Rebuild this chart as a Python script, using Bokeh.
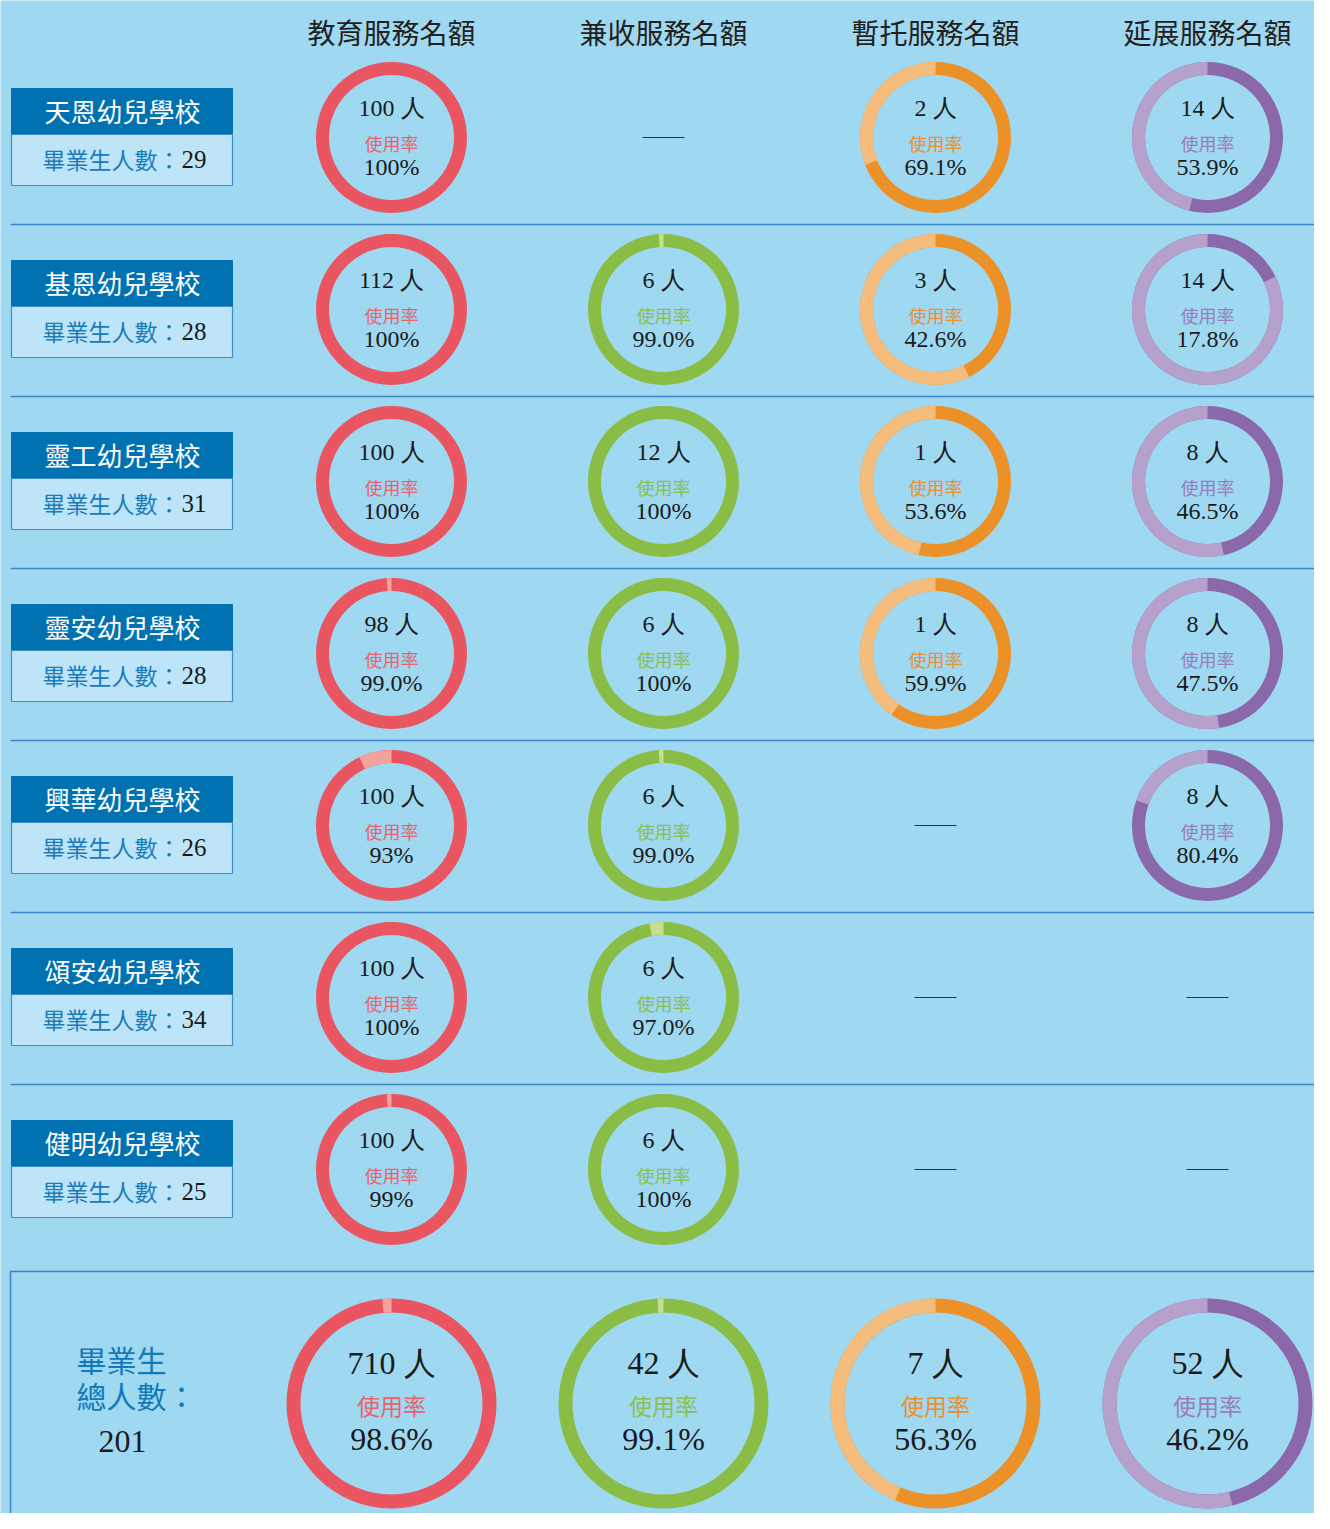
from bokeh.plotting import figure
from bokeh.models import Range1d
from bokeh.embed import file_html
from bokeh.resources import INLINE
from bokeh.core.properties import value
import math

# ---------------- data ----------------
services = ["教育服務名額", "兼收服務名額", "暫托服務名額", "延展服務名額"]
schools = ["天恩幼兒學校", "基恩幼兒學校", "靈工幼兒學校", "靈安幼兒學校",
           "興華幼兒學校", "頌安幼兒學校", "健明幼兒學校"]
graduates = [29, 28, 31, 28, 26, 34, 25]

edu_quota = [100, 112, 100, 98, 100, 100, 100]
edu_rate = ["100%", "100%", "100%", "99.0%", "93%", "100%", "99%"]
joint_quota = [None, 6, 12, 6, 6, 6, 6]
joint_rate = [None, "99.0%", "100%", "100%", "99.0%", "97.0%", "100%"]
occ_quota = [2, 3, 1, 1, None, None, None]
occ_rate = ["69.1%", "42.6%", "53.6%", "59.9%", None, None, None]
ext_quota = [14, 14, 8, 8, 8, None, None]
ext_rate = ["53.9%", "17.8%", "46.5%", "47.5%", "80.4%", None, None]

total_graduates = 201
total_quota = [710, 42, 7, 52]
total_rate = ["98.6%", "99.1%", "56.3%", "46.2%"]

quotas = [edu_quota, joint_quota, occ_quota, ext_quota]
rates = [edu_rate, joint_rate, occ_rate, ext_rate]

# ---------------- style ----------------
BG = "#9fd8f1"
dark_colors = ["#e95561", "#89bd45", "#ec9028", "#8a68a9"]
light_colors = ["#f4a29c", "#c4df92", "#f5bd7d", "#b5a1cc"]
label_colors = ["#e8636c", "#8cbf4e", "#ec9028", "#9a7dba"]
SERIF = "Liberation Serif"
CJK = "Noto Sans CJK TC"

col_x = [391, 663, 935, 1207]
row_y0, row_step = 137, 172
R_OUT, R_IN = 75.5, 62.5
BIG_Y, BR_OUT, BR_IN = 1403, 105, 91

p = figure(width=1314, height=1513, output_backend="svg", toolbar_location=None,
           x_range=Range1d(0, 1314), y_range=Range1d(-1513, 0),
           min_border=0, background_fill_color=BG, border_fill_color=BG,
           outline_line_color=None)
p.axis.visible = False
p.grid.visible = False

# header
p.text(x=col_x, y=[-31] * 4, text=services, text_font=value(CJK),
       text_font_size="28px", text_color="#231f20", text_align="center",
       text_baseline="middle")

# row separators
sep_y = [-(row_y0 + row_step * r + 87) for r in range(len(schools) - 1)]
p.segment(x0=[10] * len(sep_y), x1=[1330] * len(sep_y), y0=sep_y, y1=sep_y,
          line_color="#3d86c6", line_width=1.5)

# school label boxes
ry = [-(row_y0 + row_step * r) for r in range(len(schools))]
p.quad(left=[11] * 7, right=[232] * 7, top=[y + 49 for y in ry], bottom=[y + 3 for y in ry],
       fill_color="#0071b1", line_color="#0071b1", line_width=1)
p.quad(left=[11] * 7, right=[232] * 7, top=[y + 3 for y in ry], bottom=[y - 48 for y in ry],
       fill_color="#bde5f7", line_color="#3f8cc9", line_width=1.2)
p.text(x=[122] * 7, y=[y + 27 for y in ry], text=schools, text_font=value(CJK),
       text_font_size="26px", text_color="white", text_align="center", text_baseline="middle")
p.text(x=[180] * 7, y=[y - 21 for y in ry], text=["畢業生人數："] * 7, text_font=value(CJK),
       text_font_size="23px", text_color="#1a7bbd", text_align="right", text_baseline="middle")
p.text(x=[181] * 7, y=[y - 22 for y in ry], text=[str(g) for g in graduates], text_font=value(SERIF),
       text_font_size="25px", text_color="#1a1a1a", text_align="left", text_baseline="middle")

# rings
def add_ring(cx, cy, ro, ri, pct, si, num_txt, rate_txt, big):
    p.annulus(x=[cx], y=[cy], inner_radius=ri, outer_radius=ro,
              fill_color=dark_colors[si], line_color=None)
    rem = 1 - pct / 100.0
    if rem > 1e-9:
        p.annular_wedge(x=[cx], y=[cy], inner_radius=ri, outer_radius=ro,
                        start_angle=math.pi / 2, end_angle=math.pi / 2 + 2 * math.pi * rem,
                        direction="anticlock", fill_color=light_colors[si], line_color=None)
    if big:
        off1, off2, off3, fs1, fs2 = 41, -1, -35, "32px", "23px"
    else:
        off1, off2, off3, fs1, fs2 = 30, -5, -29, "24px", "18px"
    p.text(x=[cx], y=[cy + off1], text=[num_txt], text_font=value(SERIF), text_font_size=fs1,
           text_color="#1a1a1a", text_align="center", text_baseline="middle")
    p.text(x=[cx], y=[cy + off2], text=["使用率"], text_font=value(CJK), text_font_size=fs2,
           text_color=label_colors[si], text_align="center", text_baseline="middle")
    p.text(x=[cx], y=[cy + off3], text=[rate_txt], text_font=value(SERIF), text_font_size=fs1,
           text_color="#1a1a1a", text_align="center", text_baseline="middle")

dash_x0, dash_x1, dash_y = [], [], []
for si in range(4):
    for r in range(len(schools)):
        q = quotas[si][r]
        cy = ry[r]
        cx = col_x[si]
        if q is None:
            dash_x0.append(cx - 21)
            dash_x1.append(cx + 21)
            dash_y.append(cy)
        else:
            rt = rates[si][r]
            add_ring(cx, cy, R_OUT, R_IN, float(rt.rstrip("%")), si, f"{q} 人", rt, False)
p.segment(x0=dash_x0, x1=dash_x1, y0=dash_y, y1=dash_y, line_color="#333333", line_width=1.2)

# total box
p.quad(left=[10], right=[1340], top=[-1271], bottom=[-1540], fill_color=None,
       line_color="#3d7fc4", line_width=1.5)
p.text(x=[76, 76], y=[-1358, -1394], text=["畢業生", "總人數："], text_font=value(CJK),
       text_font_size="30px", text_font_style="normal", text_color="#1479b8",
       text_align="left", text_baseline="middle")
p.text(x=[122], y=[-1441], text=[str(total_graduates)], text_font=value(SERIF),
       text_font_size="32px", text_color="#1a1a1a", text_align="center", text_baseline="middle")
for si in range(4):
    rt = total_rate[si]
    add_ring(col_x[si], -BIG_Y, BR_OUT, BR_IN, float(rt.rstrip("%")), si,
             f"{total_quota[si]} 人", rt, True)

open("out.html", "w").write(file_html(p, INLINE))
